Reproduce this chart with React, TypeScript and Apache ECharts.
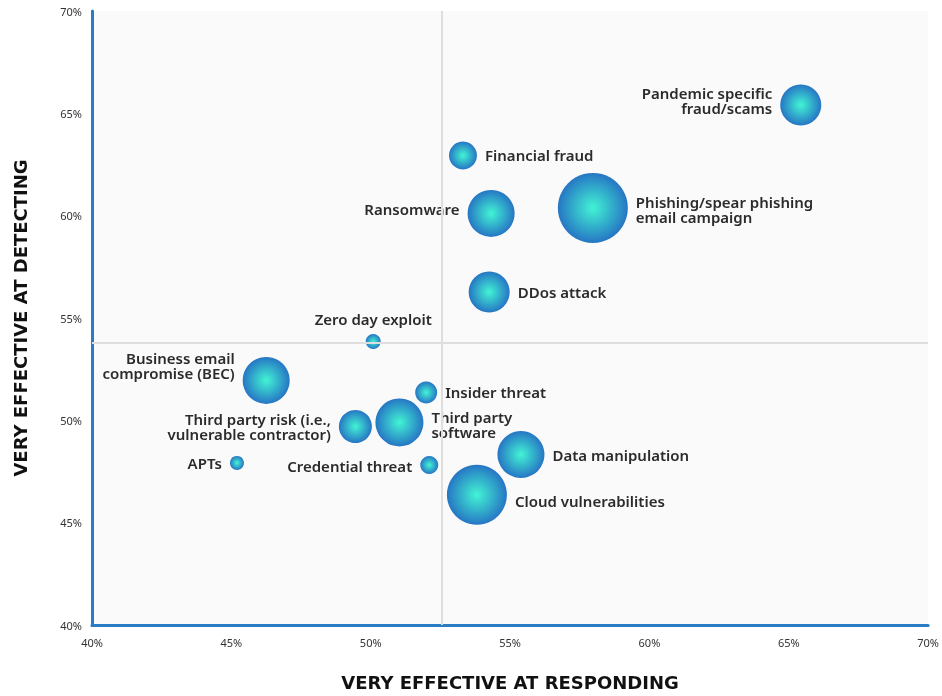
import React, { useEffect, useRef } from "react";
import * as echarts from "echarts";

const threats = [
  "Pandemic specific\nfraud/scams",
  "Financial fraud",
  "Phishing/spear phishing\nemail campaign",
  "Ransomware",
  "DDos attack",
  "Zero day exploit",
  "Business email\ncompromise (BEC)",
  "Insider threat",
  "Third party risk (i.e.,\nvulnerable contractor)",
  "Third party\nsoftware",
  "APTs",
  "Credential threat",
  "Data manipulation",
  "Cloud vulnerabilities",
];
const responding = [65.43, 53.31, 57.97, 54.32, 54.25, 50.09, 46.25, 51.99, 49.45, 51.03, 45.2, 52.1, 55.39, 53.81];
const detecting = [65.41, 62.94, 60.38, 60.11, 56.27, 53.85, 51.95, 51.36, 49.7, 49.9, 47.92, 47.82, 48.33, 46.36];
const bubbleSize = [41, 28, 70, 47, 41, 15, 47, 22, 33, 48, 14, 18, 47, 60];
const labelSide = ["left", "right", "right", "left", "right", "top", "left", "right", "left", "right", "left", "left", "right", "right"];
const labelShift = [-4, 0, 2, -4, 0, 0, -15, 0, 0, 2, 0, 1, 0, 6];
const avgResponding = 52.56;
const avgDetecting = 53.8;

const FONT = "'Noto Sans', sans-serif";
const TITLE_FONT = "'DejaVu Sans', sans-serif";

export default function App() {
  const ref = useRef<HTMLDivElement>(null);
  useEffect(() => {
    document.body.style.margin = "0";
    document.body.style.overflow = "hidden";
    document.documentElement.style.overflow = "hidden";
    const chart = echarts.init(ref.current!, null, { renderer: "svg" });
    const gradient = new echarts.graphic.RadialGradient(0.5, 0.5, 0.5, [
      { offset: 0, color: "#42f4d4" },
      { offset: 1, color: "#2676c4" },
    ]);
    const data = threats.map((name, i) => ({
      name,
      value: [responding[i], detecting[i], bubbleSize[i]],
      symbolSize: bubbleSize[i],
      label: {
        show: true,
        position: labelSide[i],
        align: labelSide[i] === "left" ? "right" : labelSide[i] === "right" ? "left" : "center",
        offset: [0, labelShift[i]],
        distance: 8,
        formatter: "{b}",
      },
    }));
    chart.setOption({
      animation: false,
      grid: {
        left: 92,
        right: 7,
        top: 11,
        bottom: 71,
        show: true,
        backgroundColor: "#fafafa",
        borderWidth: 0,
      },
      xAxis: {
        type: "value",
        min: 40,
        max: 70,
        interval: 5,
        axisLine: { show: true, onZero: false, lineStyle: { color: "#2a7cc6", width: 3 } },
        axisTick: { show: false },
        splitLine: { show: false },
        axisLabel: {
          formatter: "{value}%",
          color: "#333",
          fontFamily: FONT,
          fontSize: 11,
          margin: 12,
          showMaxLabel: true,
          showMinLabel: true,
        },
        name: "VERY EFFECTIVE AT RESPONDING",
        nameLocation: "middle",
        nameGap: 48,
        nameTextStyle: { color: "#111", fontFamily: TITLE_FONT, fontWeight: "bold", fontSize: 18 },
      },
      yAxis: {
        type: "value",
        min: 40,
        max: 70,
        interval: 5,
        axisLine: { show: true, onZero: false, lineStyle: { color: "#2a7cc6", width: 3 } },
        axisTick: { show: false },
        splitLine: { show: false },
        axisLabel: {
          formatter: "{value}%",
          color: "#333",
          fontFamily: FONT,
          fontSize: 11,
          margin: 10,
        },
        name: "VERY EFFECTIVE AT DETECTING",
        nameLocation: "middle",
        nameGap: 63,
        nameTextStyle: { color: "#111", fontFamily: TITLE_FONT, fontWeight: "bold", fontSize: 18 },
      },
      series: [
        {
          type: "scatter",
          data,
          itemStyle: { color: gradient, opacity: 1 },
          label: {
            color: "#2b2b2b",
            fontFamily: FONT,
            fontWeight: 600,
            fontSize: 15,
            lineHeight: 15,
          },
          emphasis: { disabled: true },
          markLine: {
            silent: true,
            symbol: "none",
            label: { show: false },
            lineStyle: { color: "#dedede", width: 2, type: "solid" },
            data: [{ xAxis: avgResponding }, { yAxis: avgDetecting }],
          },
          z: 3,
        },
      ],
    });
    return () => chart.dispose();
  }, []);
  return (
    <div
      ref={ref}
      style={{ position: "fixed", left: 0, top: 0, width: 942, height: 696, overflow: "hidden" }}
    />
  );
}
